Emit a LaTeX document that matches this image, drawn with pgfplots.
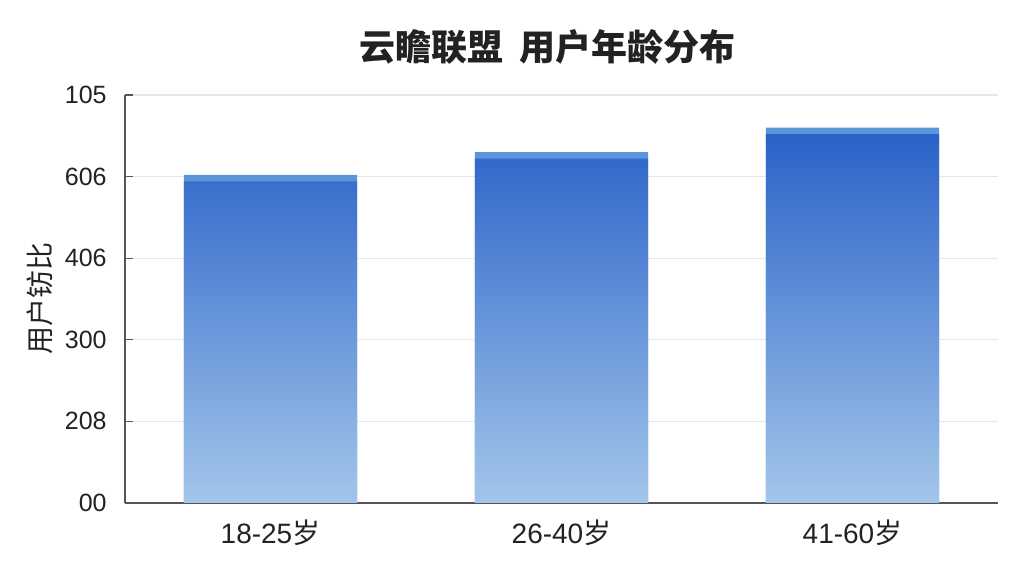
\documentclass[border=0pt]{standalone}
\usepackage{fontspec}
\usepackage{pgfplots}
\pgfplotsset{compat=1.18}
\setmainfont{Liberation Sans}
\newfontfamily\cjk{Noto Sans CJK SC}
\definecolor{barTop}{HTML}{2A62C8}
\definecolor{barBot}{HTML}{A3C6EA}
\definecolor{barCap}{HTML}{5B95DA}
\definecolor{gridgray}{HTML}{E6E6E6}
\definecolor{axisgray}{HTML}{555555}
\definecolor{txt}{HTML}{222222}

\begin{document}
\begin{tikzpicture}
  \begin{axis}[
    at={(0,0)}, anchor=south west,
    scale only axis,
    width=436.5pt, height=204pt,
    xmin=-0.5, xmax=2.5,
    ymin=0, ymax=5,
    axis x line*=bottom,
    axis y line*=left,
    axis line style={axisgray, line width=0.6pt},
    xtick={0,1,2},
    xticklabels={18-25{\cjk 岁},26-40{\cjk 岁},41-60{\cjk 岁}},
    x tick style={draw=none},
    extra x ticks={0.5,1.5,2.5},
    extra x tick labels={},
    extra x tick style={tick align=center, major tick length=6pt,
      tick style={draw=axisgray, line width=0.6pt}, grid=none},
    ytick={0,1,2,3,4,5},
    yticklabels={00,208,300,406,606,105},
    y tick style={draw=axisgray, line width=0.6pt},
    tick align=inside,
    major tick length=4pt,
    ymajorgrids,
    grid style={gridgray, line width=0.6pt},
    xticklabel style={anchor=center, yshift=-11pt, font=\fontsize{14pt}{16pt}\selectfont, text=txt},
    yticklabel style={anchor=east, inner sep=0pt, xshift=-9pt, font=\fontsize{12.5pt}{14pt}\selectfont, text=txt},
    ylabel={\cjk 用户钫比},
    every axis y label/.style={at={(axis description cs:0,0.5)}, rotate=90, anchor=center,
      yshift=42.5pt, font=\fontsize{14pt}{16pt}\selectfont, text=txt},
    title={\cjk\bfseries 云瞻联盟\ \ 用户年龄分布},
    title style={at={(axis description cs:0.5,1)}, anchor=center, yshift=18pt, xshift=-7pt,
      font=\fontsize{18pt}{20pt}\selectfont, text=txt},
    ybar, bar width=0.595,
    bar shift=0pt,
  ]
  % cap strip (full value)
  \addplot[draw=none, fill=barCap] coordinates {(0,4.02) (1,4.30) (2,4.60)};
  % gradient body (value minus cap)
  \addplot[draw=none, top color=barTop, bottom color=barBot] coordinates {(0,3.94) (1,4.22) (2,4.52)};
  \end{axis}
  \path[use as bounding box] (-62.5pt,-36.5pt) rectangle (449.5pt,251.5pt);
\end{tikzpicture}
\end{document}
